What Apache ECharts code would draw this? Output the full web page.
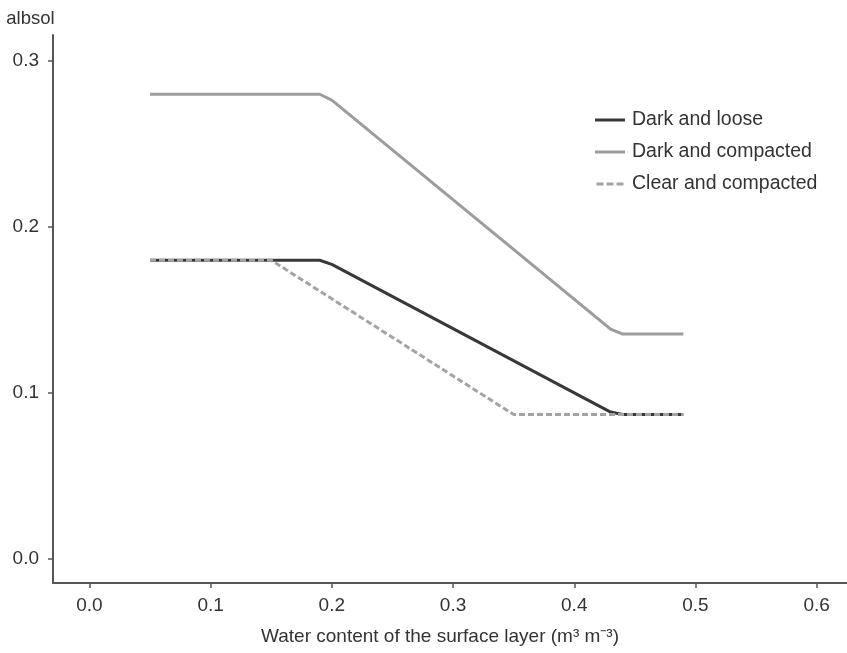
<!DOCTYPE html>
<html>
<head>
<meta charset="utf-8">
<script src="https://cdn.jsdelivr.net/npm/echarts@6/dist/echarts.min.js"></script>
<style>html,body{margin:0;padding:0;background:#fff}#c{width:847px;height:653px}</style>
</head>
<body>
<div id="c"></div>
<script>
var seriesNames = ["Dark and loose", "Dark and compacted", "Clear and compacted"];
var darkLoose = [[0.05,0.18],[0.19,0.18],[0.2,0.1775],[0.43,0.0885],[0.44,0.087],[0.49,0.087]];
var darkCompacted = [[0.05,0.28],[0.19,0.28],[0.2,0.2765],[0.43,0.1385],[0.44,0.1355],[0.49,0.1355]];
var clearCompacted = [[0.05,0.18],[0.15,0.18],[0.35,0.087],[0.49,0.087]];
var xTicks = [0, 0.1, 0.2, 0.3, 0.4, 0.5, 0.6];
var yTicks = [0, 0.1, 0.2, 0.3];

var chart = echarts.init(document.getElementById('c'));
var font = "'Liberation Sans', Arial, Helvetica, sans-serif";
var axisColor = '#555';
var solidIcon = 'path://M0,0h30v3h-30z';
var dashIcon = 'path://M0,0h7v3h-7z M10,0h7v3h-7z M20,0h7v3h-7z';
chart.setOption({
  animation: false,
  textStyle: {fontFamily: font},
  grid: {left: 53, right: 0, top: 35, bottom: 70, containLabel: false},
  legend: {
    orient: 'vertical', left: 590, top: 105, itemWidth: 30, itemHeight: 3, itemGap: 12,
    textStyle: {fontSize: 19.5, color: '#333', fontFamily: font, padding: [0, 0, 0, 2]},
    data: [
      {name: seriesNames[0], icon: solidIcon},
      {name: seriesNames[1], icon: solidIcon},
      {name: seriesNames[2], icon: dashIcon}
    ]
  },
  xAxis: {
    type: 'value', min: -0.03, max: 0.625,
    splitLine: {show: false},
    axisLine: {onZero: false, lineStyle: {color: axisColor, width: 2}},
    axisTick: {customValues: xTicks, length: 5, lineStyle: {color: axisColor, width: 1.5}},
    axisLabel: {customValues: xTicks, color: '#333', fontSize: 19, margin: 13,
      formatter: function(v){return v.toFixed(1);}},
    name: 'Water content of the surface layer (m\u00B3 m\u207B\u00B3)',
    nameLocation: 'middle', nameGap: 44,
    nameTextStyle: {fontSize: 19, color: '#333', padding: [0, 20, 0, 0]}
  },
  yAxis: {
    type: 'value', min: -0.0145, max: 0.3157,
    splitLine: {show: false},
    axisLine: {show: true, onZero: false, lineStyle: {color: axisColor, width: 2}},
    axisTick: {show: true, customValues: yTicks, length: 5, lineStyle: {color: axisColor, width: 1.5}},
    axisLabel: {customValues: yTicks, color: '#333', fontSize: 19, margin: 14,
      formatter: function(v){return v.toFixed(1);}},
    name: 'albsol', nameLocation: 'end', nameGap: 7,
    nameTextStyle: {fontSize: 18.5, color: '#333', align: 'center', padding: [0, 0, 0, -45]}
  },
  series: [
    {name: seriesNames[0], type: 'line', data: darkLoose, symbol: 'none', z: 3,
      lineStyle: {color: '#383838', width: 3}, itemStyle: {color: '#383838'}},
    {name: seriesNames[1], type: 'line', data: darkCompacted, symbol: 'none',
      lineStyle: {color: '#9c9c9c', width: 3}, itemStyle: {color: '#9c9c9c'}},
    {name: seriesNames[2], type: 'line', data: clearCompacted, symbol: 'none', z: 4,
      lineStyle: {color: '#a3a3a3', width: 3, type: [6, 3]}, itemStyle: {color: '#a3a3a3'}}
  ]
});
</script>
</body>
</html>
